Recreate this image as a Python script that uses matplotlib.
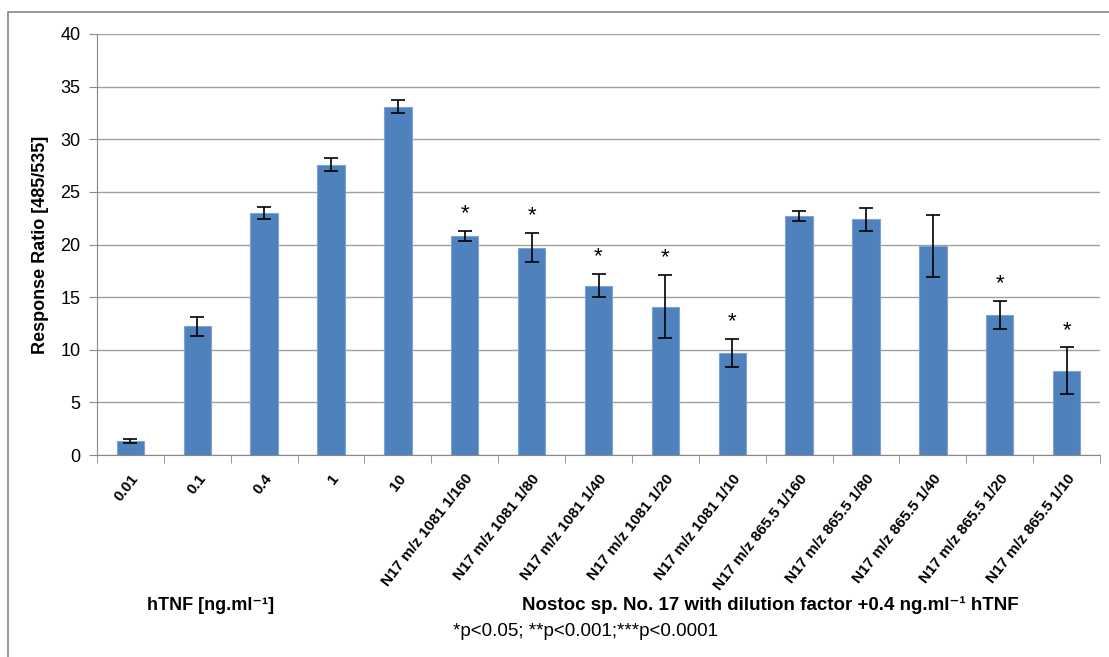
import numpy as np
import matplotlib.pyplot as plt
import matplotlib.transforms as mtransforms
from matplotlib.patches import Rectangle

plt.rcParams['font.family'] = ['Liberation Sans', 'DejaVu Sans']

labels = ['0.01', '0.1', '0.4', '1', '10',
          'N17 m/z 1081 1/160', 'N17 m/z 1081 1/80', 'N17 m/z 1081 1/40',
          'N17 m/z 1081 1/20', 'N17 m/z 1081 1/10',
          'N17 m/z 865.5 1/160', 'N17 m/z 865.5 1/80', 'N17 m/z 865.5 1/40',
          'N17 m/z 865.5 1/20', 'N17 m/z 865.5 1/10']
values = [1.33, 12.25, 23.0, 27.6, 33.1,
          20.8, 19.7, 16.1, 14.1, 9.7,
          22.7, 22.4, 19.9, 13.3, 8.0]
errors = [0.15, 0.9, 0.6, 0.6, 0.6,
          0.5, 1.4, 1.1, 3.0, 1.35,
          0.5, 1.1, 2.95, 1.33, 2.23]
signif = ['', '', '', '', '',
          '*', '*', '*', '*', '*',
          '', '', '', '*', '*']

fig = plt.figure(figsize=(11.09, 6.57), dpi=100)
ax = fig.add_axes([97/1109, 1-455/657, (1100-97)/1109, (455-34)/657])

x = np.arange(len(labels))
ax.bar(x, values, width=0.41, color='#4F81BD', edgecolor='#7FA3D0', linewidth=0.8, zorder=3)
ax.errorbar(x, values, yerr=errors, fmt='none', ecolor='black', elinewidth=1.2,
            capsize=5, capthick=1.2, zorder=4)
for xi, v, e, s in zip(x, values, errors, signif):
    if s:
        ax.text(xi, v + e + 1.6, s, ha='center', va='center', fontsize=16, zorder=5)

ax.set_xlim(-0.5, len(labels) - 0.5)
ax.set_ylim(0, 40)
ax.set_yticks(range(0, 41, 5))
ax.yaxis.grid(True, color='#A0A0A0', linewidth=1, zorder=0)
ax.tick_params(axis='y', labelsize=13, length=6, color='#888888', pad=6)

ax.set_xticks(x)
ax.set_xticklabels(labels, rotation=52, ha='right', rotation_mode='anchor',
                   fontsize=11, fontweight='bold')
shift = mtransforms.ScaledTranslation(6/100, 0, fig.dpi_scale_trans)
for lab in ax.get_xticklabels():
    lab.set_transform(lab.get_transform() + shift)
ax.set_xticks(np.arange(-0.5, len(labels), 1), minor=True)
ax.tick_params(axis='x', which='major', length=0, pad=12)
ax.tick_params(axis='x', which='minor', length=6, color='#888888')

for side in ['top', 'right']:
    ax.spines[side].set_visible(False)
for side in ['left', 'bottom']:
    ax.spines[side].set_color('#888888')

ax.set_ylabel('Response Ratio [485/535]', fontsize=13, fontweight='bold', labelpad=8)

fig.text(211/1109, 1-605/657, 'hTNF [ng.ml⁻¹]', ha='center', va='center',
         fontsize=13, fontweight='bold')
fig.text(770/1109, 1-605/657, 'Nostoc sp. No. 17 with dilution factor +0.4 ng.ml⁻¹ hTNF',
         ha='center', va='center', fontsize=13.5, fontweight='bold')
fig.text(585/1109, 1-631/657, '*p<0.05; **p<0.001;***p<0.0001', ha='center', va='center',
         fontsize=13.5)

fig.patches.append(Rectangle((8/1109, -0.05), 1.2, 1 - 12/657 + 0.05, transform=fig.transFigure,
                             fill=False, edgecolor='#888888', linewidth=1.2))

fig.savefig('out.png', dpi=100)
